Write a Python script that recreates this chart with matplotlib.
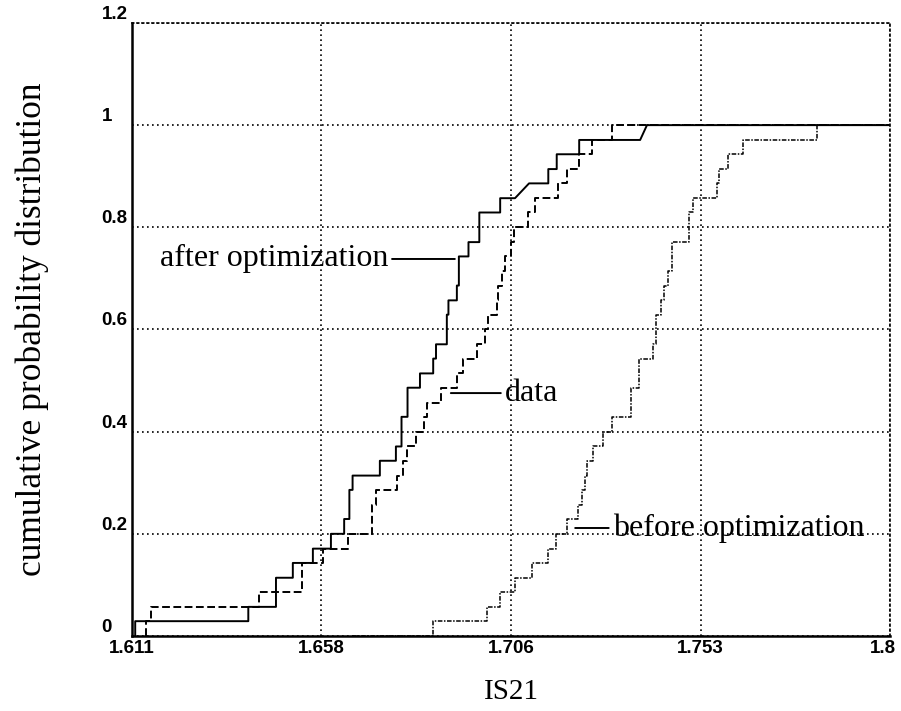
import numpy as np
import matplotlib.pyplot as plt
from matplotlib.transforms import ScaledTranslation

# step positions (IS21) and cumulative levels for each distribution;
# a tuple marks a rise drawn as a slanted segment between the two x values
after_x = [1.6118, 1.6400, 1.6469, 1.6511, 1.6561, 1.6606, 1.6639, 1.6652, 1.6660,
           1.6728, 1.6768, 1.6782, 1.6797, 1.6828, 1.6861, 1.6868, 1.6895, 1.6899,
           1.6920, 1.6925, 1.6949, 1.6976, 1.7028, (1.7065, 1.7100), 1.7148, 1.7169,
           1.7225, (1.7377, 1.7394)]
after_p = [0.029, 0.057, 0.114, 0.143, 0.171, 0.200, 0.229, 0.286, 0.314,
           0.343, 0.371, 0.429, 0.486, 0.514, 0.543, 0.571, 0.629, 0.657,
           0.686, 0.743, 0.771, 0.829, 0.857, 0.886, 0.914, 0.943,
           0.971, 1.000]

data_x = [1.6145, 1.6157, 1.6427, 1.6533, 1.6585, 1.6649, 1.6708, 1.6718, 1.6770,
          1.6785, 1.6796, 1.6818, 1.6838, 1.6845, 1.6880, 1.6920, 1.6936, 1.6970,
          1.6990, 1.6998, 1.7019, 1.7023, 1.7032, 1.7040, 1.7055, 1.7063, 1.7097,
          1.7115, 1.7173, 1.7195, 1.7225, 1.7256, 1.7306]
data_p = [0.029, 0.057, 0.086, 0.143, 0.171, 0.200, 0.257, 0.286, 0.314,
          0.343, 0.371, 0.400, 0.429, 0.457, 0.486, 0.514, 0.543, 0.571,
          0.600, 0.629, 0.657, 0.686, 0.714, 0.743, 0.771, 0.800, 0.829,
          0.857, 0.886, 0.914, 0.943, 0.971, 1.000]

before_start = 1.6658
before_x = [1.6861, 1.6996, 1.7028, 1.7065, 1.7107, 1.7148, 1.7167, 1.7194, 1.7223,
            1.7231, 1.7240, 1.7245, 1.7260, 1.7285, 1.7308, 1.7355, 1.7375, 1.7408,
            1.7417, 1.7428, 1.7437, 1.7447, 1.7456, 1.7500, 1.7508, 1.7568, 1.7574,
            1.7597, 1.7633, 1.7817]
before_p = [0.029, 0.057, 0.086, 0.114, 0.143, 0.171, 0.200, 0.229, 0.257,
            0.286, 0.314, 0.343, 0.371, 0.400, 0.429, 0.486, 0.543, 0.571,
            0.629, 0.657, 0.686, 0.714, 0.771, 0.829, 0.857, 0.886, 0.914,
            0.943, 0.971, 1.000]

x_ticks = [1.611, 1.65825, 1.7055, 1.75275, 1.8]
x_tick_labels = ['1.611', '1.658', '1.706', '1.753', '1.8']
y_ticks = [0, 0.2, 0.4, 0.6, 0.8, 1.0, 1.2]
y_tick_labels = ['0', '0.2', '0.4', '0.6', '0.8', '1', '1.2']

X_MIN, X_MAX = 1.611, 1.8


def stair(xs, ps, x_start=None, x_end=X_MAX):
    """Build the corner points of a cumulative step curve."""
    px, py = [], []
    if x_start is not None:
        px.append(x_start)
        py.append(0.0)
    prev = 0.0
    for x, p in zip(xs, ps):
        x0, x1 = x if isinstance(x, tuple) else (x, x)
        px += [x0, x1]
        py += [prev, p]
        prev = p
    px.append(x_end)
    py.append(prev)
    return px, py


serif = ['Liberation Serif', 'DejaVu Serif']
sans = ['Liberation Sans', 'DejaVu Sans']

fig = plt.figure(figsize=(9.01, 7.11), dpi=100)
ax = fig.add_axes([0.1465, 0.1055, 0.8413, 0.8622])

ax.plot(*stair(before_x, before_p, x_start=before_start), color='black',
        lw=1.1, ls=(0, (3, 1, 1, 1)), zorder=3)
ax.plot(*stair(data_x, data_p), color='black', lw=1.4, ls=(0, (4, 1.8)), zorder=3)
ax.plot(*stair(after_x, after_p), color='black', lw=1.4, zorder=4)

ax.set_xlim(X_MIN, X_MAX)
ax.set_ylim(0, 1.2)
ax.set_xticks(x_ticks)
ax.set_xticklabels(x_tick_labels, family=sans, fontweight='bold', fontsize=13.5)
ax.set_yticks(y_ticks)
ax.set_yticklabels(y_tick_labels, family=sans, fontweight='bold', fontsize=13.5)
for lbl in ax.get_yticklabels():
    lbl.set_va('bottom')
    lbl.set_ha('left')
ax.tick_params(axis='both', length=0)
ax.tick_params(axis='x', pad=3)
ax.tick_params(axis='y', pad=22)

# keep the last x label inside the figure edge
last = ax.get_xticklabels()[-1]
last.set_transform(last.get_transform() + ScaledTranslation(-5 / 72, 0, fig.dpi_scale_trans))

ax.grid(True, color='black', lw=1.2, ls=(0, (1, 2)))
ax.set_axisbelow(True)
for side in ['left', 'bottom']:
    ax.spines[side].set_linewidth(1.8)
for side in ['top', 'right']:
    ax.spines[side].set_linewidth(1.2)
    ax.spines[side].set_linestyle((0, (1, 2)))

ax.set_xlabel('IS21', family=serif, fontsize=21, labelpad=16)
ax.set_ylabel('cumulative probability distribution', family=serif, fontsize=25.5,
              labelpad=38)

# pointer labels for the three curves
label_style = dict(family=serif, fontsize=23, va='center')
ax.annotate('after optimization', xy=(1.6915, 0.738), xytext=(1.6748, 0.738),
            ha='right', arrowprops=dict(arrowstyle='-', lw=1.4, color='black',
                                        relpos=(1, 0.5), shrinkA=1, shrinkB=0),
            **label_style)
ax.annotate('data', xy=(1.6905, 0.4755), xytext=(1.7040, 0.4755),
            ha='left', arrowprops=dict(arrowstyle='-', lw=1.4, color='black',
                                       relpos=(0, 0.5), shrinkA=1, shrinkB=0),
            **label_style)
ax.annotate('before optimization', xy=(1.7215, 0.2114), xytext=(1.7309, 0.2114),
            ha='left', arrowprops=dict(arrowstyle='-', lw=1.4, color='black',
                                       relpos=(0, 0.5), shrinkA=1, shrinkB=0),
            **label_style)

fig.savefig('out.png', dpi=100)
plt.close(fig)
